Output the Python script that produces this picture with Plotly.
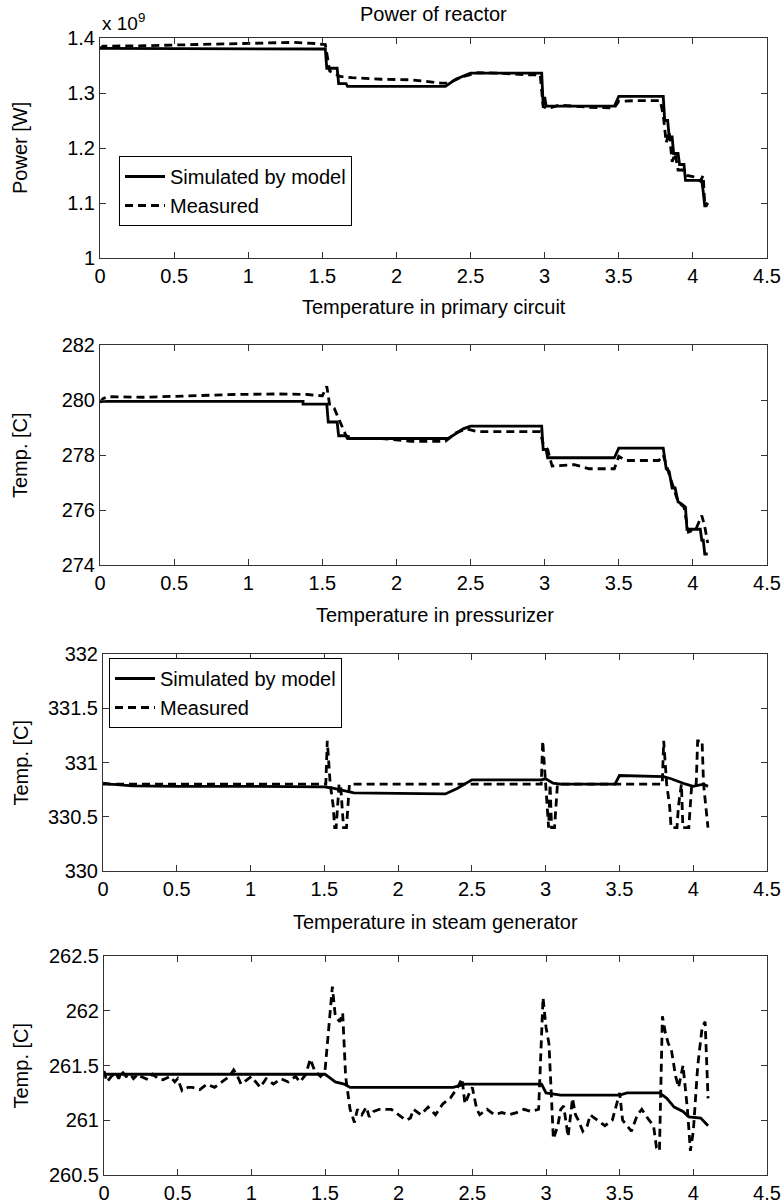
import plotly.graph_objects as go

# ---------------- data ----------------
# Panel 1: Power of reactor (units of 1e9 W)
p_sim_t = [0, 1.37, 1.37, 1.52, 1.53, 1.60, 1.61, 1.66, 1.67, 2.33, 2.40, 2.50, 2.98, 2.99, 3.00, 3.01, 3.02, 3.47, 3.50, 3.80, 3.81, 3.83, 3.84, 3.86, 3.87, 3.90, 3.91, 3.94, 3.95, 4.06, 4.07, 4.08, 4.09, 4.10]
p_sim_v = [1.381, 1.381, 1.380, 1.380, 1.345, 1.345, 1.317, 1.317, 1.312, 1.312, 1.325, 1.336, 1.336, 1.278, 1.293, 1.276, 1.276, 1.276, 1.294, 1.294, 1.250, 1.250, 1.220, 1.220, 1.190, 1.190, 1.170, 1.170, 1.141, 1.141, 1.120, 1.095, 1.095, 1.100]
p_mea_t = [0, 0.02, 0.3, 0.6, 0.9, 1.2, 1.3, 1.45, 1.52, 1.55, 1.58, 1.62, 1.7, 1.9, 2.1, 2.3, 2.35, 2.45, 2.55, 2.7, 2.9, 2.97, 2.99, 3.02, 3.1, 3.3, 3.47, 3.5, 3.6, 3.78, 3.80, 3.82, 3.84, 3.86, 3.88, 3.90, 3.93, 3.96, 4.0, 4.05, 4.07, 4.08, 4.10]
p_mea_v = [1.381, 1.385, 1.386, 1.388, 1.389, 1.391, 1.392, 1.390, 1.388, 1.340, 1.336, 1.330, 1.328, 1.325, 1.324, 1.318, 1.318, 1.330, 1.337, 1.336, 1.333, 1.333, 1.275, 1.272, 1.278, 1.274, 1.273, 1.285, 1.286, 1.286, 1.260, 1.210, 1.230, 1.175, 1.190, 1.160, 1.160, 1.150, 1.148, 1.140, 1.150, 1.095, 1.100]

# Panel 2: Temperature in primary circuit
t1_sim_t = [0, 1.37, 1.37, 1.53, 1.54, 1.60, 1.61, 1.66, 1.67, 2.35, 2.45, 2.50, 2.98, 2.99, 3.01, 3.02, 3.47, 3.50, 3.80, 3.82, 3.84, 3.86, 3.88, 3.90, 3.93, 3.95, 3.96, 4.05, 4.06, 4.07, 4.08, 4.10]
t1_sim_v = [279.95, 279.95, 279.85, 279.85, 279.20, 279.20, 278.70, 278.70, 278.60, 278.60, 278.95, 279.05, 279.05, 278.20, 278.20, 277.90, 277.90, 278.25, 278.25, 277.50, 277.40, 276.80, 276.80, 276.30, 276.20, 276.10, 275.30, 275.30, 274.90, 274.90, 274.40, 274.40]
t1_mea_t = [0, 0.02, 0.05, 0.3, 0.6, 0.9, 1.2, 1.4, 1.5, 1.53, 1.55, 1.58, 1.62, 1.66, 1.72, 1.9, 2.1, 2.33, 2.40, 2.47, 2.55, 2.7, 2.97, 2.99, 3.02, 3.05, 3.2, 3.3, 3.47, 3.50, 3.55, 3.77, 3.80, 3.84, 3.87, 3.90, 3.94, 3.97, 4.02, 4.06, 4.08, 4.10]
t1_mea_v = [279.90, 280.05, 280.12, 280.10, 280.15, 280.20, 280.22, 280.20, 280.15, 280.50, 279.80, 279.70, 279.20, 278.70, 278.60, 278.60, 278.50, 278.50, 278.80, 278.95, 278.85, 278.85, 278.85, 278.40, 278.20, 277.60, 277.65, 277.50, 277.50, 277.95, 277.80, 277.80, 278.00, 277.30, 276.80, 276.30, 276.10, 275.20, 275.30, 275.80, 275.40, 274.80]

# Panel 3: Temperature in pressurizer
t2_sim_t = [0, 0.05, 0.2, 0.5, 1.0, 1.5, 1.55, 1.60, 1.65, 1.70, 2.0, 2.32, 2.40, 2.47, 2.50, 2.97, 3.00, 3.05, 3.10, 3.47, 3.50, 3.80, 3.85, 3.95, 4.00, 4.07, 4.10]
t2_sim_v = [330.81, 330.80, 330.785, 330.78, 330.78, 330.775, 330.765, 330.75, 330.73, 330.72, 330.715, 330.71, 330.76, 330.82, 330.84, 330.84, 330.85, 330.81, 330.80, 330.80, 330.88, 330.87, 330.85, 330.80, 330.78, 330.80, 330.78]
t2_mea_t = [0, 1.51, 1.52, 1.54, 1.56, 1.57, 1.58, 1.60, 1.61, 1.63, 1.65, 1.67, 2.97, 2.98, 3.00, 3.01, 3.02, 3.03, 3.04, 3.06, 3.08, 3.79, 3.80, 3.82, 3.84, 3.85, 3.89, 3.90, 3.92, 3.93, 3.97, 3.99, 4.02, 4.03, 4.06, 4.07, 4.10]
t2_mea_v = [330.8, 330.8, 331.2, 330.8, 330.6, 330.4, 330.4, 330.8, 330.8, 330.4, 330.4, 330.8, 330.8, 331.2, 330.8, 330.6, 330.4, 330.8, 330.4, 330.4, 330.8, 330.8, 331.2, 330.8, 330.6, 330.4, 330.4, 330.6, 330.8, 330.4, 330.4, 330.8, 330.8, 331.2, 331.2, 330.8, 330.4]

# Panel 4: Temperature in steam generator
t3_sim_t = [0, 0.5, 1.0, 1.5, 1.52, 1.57, 1.63, 1.67, 2.0, 2.37, 2.45, 2.97, 3.00, 3.10, 3.50, 3.55, 3.77, 3.82, 3.87, 3.93, 3.97, 4.05, 4.10]
t3_sim_v = [261.42, 261.42, 261.42, 261.42, 261.40, 261.35, 261.33, 261.30, 261.30, 261.30, 261.33, 261.33, 261.25, 261.23, 261.23, 261.25, 261.25, 261.20, 261.12, 261.08, 261.03, 261.02, 260.95]
t3_mea_t = [0, 0.02, 0.05, 0.08, 0.10, 0.12, 0.15, 0.18, 0.20, 0.23, 0.25, 0.30, 0.33, 0.37, 0.40, 0.45, 0.48, 0.50, 0.53, 0.57, 0.60, 0.65, 0.70, 0.75, 0.80, 0.85, 0.88, 0.90, 0.93, 0.97, 1.00, 1.03, 1.06, 1.10, 1.15, 1.20, 1.25, 1.30, 1.33, 1.37, 1.40, 1.43, 1.47, 1.50, 1.53, 1.55, 1.57, 1.60, 1.62, 1.64, 1.67, 1.70, 1.72, 1.75, 1.78, 1.80, 1.83, 1.87, 1.90, 1.95, 2.00, 2.05, 2.08, 2.10, 2.15, 2.20, 2.25, 2.30, 2.35, 2.40, 2.43, 2.45, 2.48, 2.50, 2.53, 2.55, 2.60, 2.65, 2.70, 2.75, 2.80, 2.85, 2.90, 2.95, 2.98, 3.00, 3.02, 3.04, 3.05, 3.08, 3.10, 3.12, 3.15, 3.18, 3.20, 3.22, 3.25, 3.28, 3.30, 3.35, 3.40, 3.45, 3.50, 3.52, 3.55, 3.58, 3.62, 3.65, 3.70, 3.73, 3.75, 3.77, 3.79, 3.81, 3.83, 3.85, 3.88, 3.90, 3.93, 3.96, 3.98, 4.00, 4.03, 4.06, 4.08, 4.10]
t3_mea_v = [261.45, 261.35, 261.40, 261.43, 261.38, 261.45, 261.40, 261.42, 261.38, 261.42, 261.40, 261.37, 261.42, 261.38, 261.37, 261.40, 261.35, 261.38, 261.27, 261.30, 261.30, 261.28, 261.33, 261.30, 261.35, 261.40, 261.46, 261.42, 261.33, 261.37, 261.40, 261.35, 261.30, 261.38, 261.33, 261.38, 261.35, 261.40, 261.35, 261.42, 261.56, 261.45, 261.40, 261.45, 261.90, 262.22, 261.95, 261.90, 261.98, 261.40, 261.10, 260.98, 261.10, 261.05, 261.12, 261.03, 261.08, 261.10, 261.10, 261.10, 261.05, 261.00, 261.02, 261.10, 261.05, 261.12, 261.05, 261.15, 261.20, 261.30, 261.38, 261.15, 261.25, 261.30, 261.10, 261.05, 261.10, 261.05, 261.07, 261.05, 261.07, 261.10, 261.08, 261.10, 262.12, 261.85, 261.70, 261.20, 260.83, 260.95, 261.10, 261.13, 260.85, 261.20, 261.05, 261.00, 260.90, 260.95, 261.05, 261.00, 260.95, 261.00, 261.25, 261.00, 260.95, 260.90, 261.05, 261.10, 261.00, 260.95, 260.75, 260.72, 261.95, 261.80, 261.70, 261.65, 261.40, 261.30, 261.50, 261.10, 260.72, 260.90, 261.50, 261.85, 261.90, 261.20]

titles = ["Power of reactor", "Temperature in primary circuit", "Temperature in pressurizer", "Temperature in steam generator"]
ytitles = ["Power [W]", "Temp. [C]", "Temp. [C]", "Temp. [C]"]
yranges = [[1.0, 1.4], [274, 282], [330, 332], [260.5, 262.5]]
ydticks = [0.1, 2, 0.5, 0.5]
xticks = [0, 0.5, 1, 1.5, 2, 2.5, 3, 3.5, 4, 4.5]

series = [
    (p_sim_t, p_sim_v, p_mea_t, p_mea_v),
    (t1_sim_t, t1_sim_v, t1_mea_t, t1_mea_v),
    (t2_sim_t, t2_sim_v, t2_mea_t, t2_mea_v),
    (t3_sim_t, t3_sim_v, t3_mea_t, t3_mea_v),
]

# ---------------- layout ----------------
W, H = 781, 1203
panels_px = [(38, 258), (345, 565), (654, 871), (956, 1175)]  # top, bottom in px
lefts = [100, 100, 103, 104]
right = 767

FONT_N = "Liberation Sans Narrow, Arial Narrow, Liberation Sans, Arial, sans-serif"
FONT = "Liberation Sans, Arial, Helvetica, sans-serif"

fig = go.Figure()
legend_names = {0: "legend", 2: "legend2"}

for i, (st, sv, mt, mv) in enumerate(series):
    xa = "x" if i == 0 else f"x{i+1}"
    ya = "y" if i == 0 else f"y{i+1}"
    showleg = i in legend_names
    lg = legend_names.get(i, "legend")
    fig.add_trace(go.Scatter(x=st, y=sv, mode="lines", name="Simulated by model",
                             line=dict(color="black", width=2.8), xaxis=xa, yaxis=ya,
                             showlegend=showleg, legend=lg))
    fig.add_trace(go.Scatter(x=mt, y=mv, mode="lines", name="Measured",
                             line=dict(color="black", width=2.8, dash="8px,5px"), xaxis=xa, yaxis=ya,
                             showlegend=showleg, legend=lg))

axis_common = dict(showline=True, linecolor="#333", linewidth=1, mirror="ticks",
                   ticks="inside", ticklen=6, tickcolor="#333", showgrid=False, zeroline=False,
                   automargin=False,
                   tickfont=dict(family=FONT_N, size=20, color="black"))

layout = dict(width=W, height=H, margin=dict(l=0, r=0, t=0, b=0, autoexpand=False),
              paper_bgcolor="white", plot_bgcolor="white", showlegend=True)

annotations = []
for i in range(4):
    top, bot = panels_px[i]
    sfx = "" if i == 0 else str(i + 1)
    layout["xaxis" + sfx] = dict(axis_common, domain=[lefts[i] / W, right / W], range=[0, 4.5],
                                  tickvals=xticks, ticktext=[str(v) for v in xticks],
                                  anchor="y" + sfx)
    layout["yaxis" + sfx] = dict(axis_common, domain=[1 - bot / H, 1 - top / H], range=yranges[i],
                                  dtick=ydticks[i], tick0=yranges[i][0], anchor="x" + sfx)
    cx = (lefts[i] + right) / 2 / W
    title_y = [14, 307, 615, 922][i]
    annotations.append(dict(text=titles[i], x=cx, y=1 - title_y / H, xref="paper", yref="paper",
                            showarrow=False, xanchor="center", yanchor="middle",
                            font=dict(family=FONT_N, size=20, color="black")))
    annotations.append(dict(text=ytitles[i], x=20 / W, y=1 - (top + bot) / 2 / H, xref="paper", yref="paper",
                            showarrow=False, xanchor="center", yanchor="middle", textangle=-90,
                            font=dict(family=FONT, size=20, color="black")))

annotations.append(dict(text="x 10<sup>9</sup>", x=100 / W, y=1 - 22 / H, xref="paper", yref="paper",
                        showarrow=False, xanchor="left", yanchor="middle",
                        font=dict(family=FONT_N, size=19, color="black")))
layout["annotations"] = annotations

leg_common = dict(bgcolor="white", bordercolor="black", borderwidth=1,
                  font=dict(family=FONT_N, size=20, color="black"),
                  xanchor="left", yanchor="top", tracegroupgap=0, itemwidth=40)
layout["legend"] = dict(leg_common, x=119 / W, y=1 - 156 / H)
layout["legend2"] = dict(leg_common, x=109 / W, y=1 - 658 / H)

fig.update_layout(**layout)
fig.write_html("out.html")
